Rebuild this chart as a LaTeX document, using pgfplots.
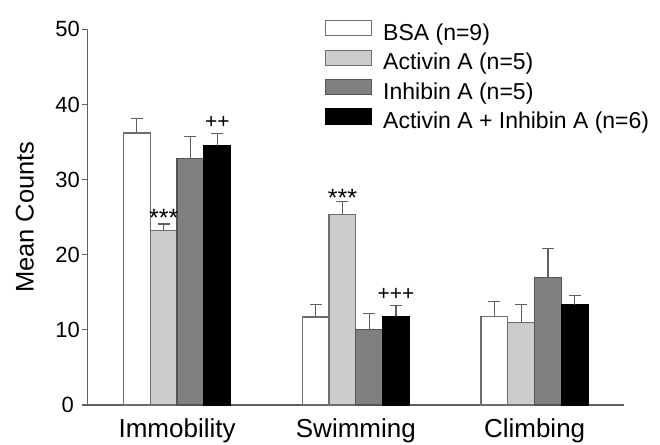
\documentclass[border=0pt]{standalone}
\usepackage{pgfplots}
\pgfplotsset{compat=1.18}
\usepackage{fontspec}
\setmainfont{Liberation Sans}
\definecolor{axgray}{RGB}{95,95,95}
\definecolor{edgegray}{RGB}{110,110,110}
\definecolor{actfill}{RGB}{204,204,204}
\definecolor{inhfill}{RGB}{128,128,128}
\definecolor{inhedge}{RGB}{85,85,85}
\begin{document}
\begin{tikzpicture}
\path[use as bounding box] (0,0) rectangle (660pt,444pt);
\begin{axis}[
  at={(87.7pt,39pt)}, anchor=south west,
  scale only axis, width=536.3pt, height=375.7pt,
  xmin=-0.5, xmax=2.5, ymin=0, ymax=50,
  axis lines*=left,
  axis line style={axgray, line width=1.2pt},
  xtick={0,1,2}, xticklabels={Immobility,Swimming,Climbing},
  ytick={0,10,20,30,40,50},
  tick align=outside,
  major tick length=6pt,
  x tick style={draw=none},
  y tick style={axgray, line width=1.2pt},
  /pgf/number format/assume math mode=true,
  yticklabel style={font=\fontsize{22}{25}\selectfont, anchor=center, inner sep=0pt, xshift=-14pt},
  xticklabel style={font=\fontsize{26}{30}\selectfont, anchor=base, inner sep=0pt, yshift=-26pt},
  ylabel={Mean Counts},
  ylabel style={font=\fontsize{25.5}{29}\selectfont, at={(axis description cs:-0.117,0.5)}, anchor=center, inner sep=0pt},
  ybar, bar width=0.15,
  legend style={at={(axis description cs:0.4425,1.024)}, anchor=north west, draw=none, fill=none,
    inner sep=0pt, outer sep=0pt, row sep=4.5pt, column sep=11pt,
    font=\fontsize{23}{27}\selectfont, nodes={inner sep=0pt, text height=16pt, text depth=4.5pt}},
  legend cell align=left,
  legend image code/.code={\draw[#1, line width=1.2pt] (0pt,-1pt) rectangle (46pt,14pt);},
  error bars/y dir=plus, error bars/y explicit,
  error bars/error bar style={axgray, line width=1.2pt},
  error bars/error mark options={rotate=90, mark size=6pt, axgray, line width=1.2pt},
]
\addplot[bar shift=-0.225, fill=white, draw=edgegray, line width=1.2pt]
  coordinates {(0,36.2) +- (0,1.9) (1,11.7) +- (0,1.7) (2,11.8) +- (0,2.0)};
\addlegendentry{BSA (n=9)}
\addplot[bar shift=-0.075, fill=actfill, draw=edgegray, line width=1.2pt]
  coordinates {(0,23.2) +- (0,0.9) (1,25.3) +- (0,1.8) (2,11.0) +- (0,2.4)};
\addlegendentry{Activin A (n=5)}
\addplot[bar shift=0.075, fill=inhfill, draw=inhedge, line width=1.2pt]
  coordinates {(0,32.8) +- (0,2.9) (1,10.0) +- (0,2.2) (2,17.0) +- (0,3.8)};
\addlegendentry{Inhibin A (n=5)}
\addplot[bar shift=0.225, fill=black, draw=black, line width=1.2pt]
  coordinates {(0,34.5) +- (0,1.6) (1,11.8) +- (0,1.4) (2,13.3) +- (0,1.3)};
\addlegendentry{Activin A + Inhibin A (n=6)}
\node[font=\fontsize{25}{28}\selectfont, anchor=base, inner sep=0pt] at (axis cs:-0.075,23.7) {***};
\node[font=\fontsize{25}{28}\selectfont, anchor=base, inner sep=0pt] at (axis cs:0.925,26.4) {***};
\node[font=\fontsize{21}{24}\selectfont, anchor=base, inner sep=0pt] at (axis cs:0.225,36.8) {++};
\node[font=\fontsize{21}{24}\selectfont, anchor=base, inner sep=0pt] at (axis cs:1.225,13.9) {+++};
\end{axis}
\end{tikzpicture}
\end{document}
